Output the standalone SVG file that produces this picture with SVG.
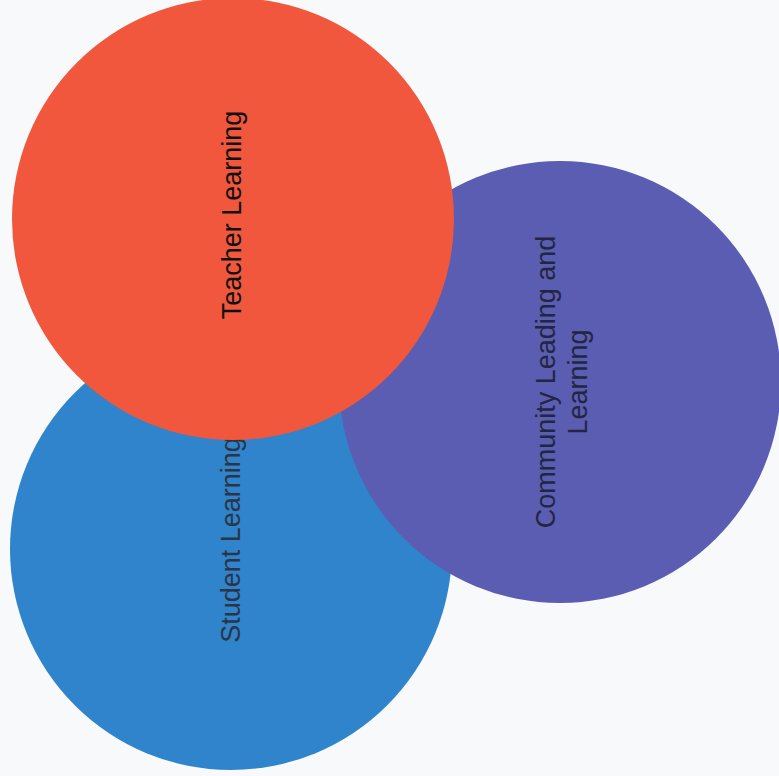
<svg xmlns="http://www.w3.org/2000/svg" width="779" height="776" viewBox="0 0 779 776">
<style>
.lbl{font-family:"Liberation Sans",Arial,sans-serif;font-size:27px;text-anchor:middle}
</style>
<rect x="0" y="0" width="779" height="776" fill="#f7f9fa"/>
<g id="student">
<circle cx="231" cy="549" r="221" fill="#2f84cc"/>
<text class="lbl" fill="#2b3548" transform="translate(240,540) rotate(-90)">Student Learning</text>
</g>
<g id="community">
<circle cx="560" cy="382" r="221" fill="#5b5db3"/>
<text class="lbl" fill="#22263f" transform="translate(555,382) rotate(-90)">Community Leading and</text>
<text class="lbl" fill="#22263f" transform="translate(587,382) rotate(-90)">Learning</text>
</g>
<g id="teacher">
<circle cx="233" cy="219" r="221" fill="#f0573c"/>
<text class="lbl" fill="#111111" transform="translate(241,215) rotate(-90)">Teacher Learning</text>
</g>
<g id="connectors"></g>
</svg>
